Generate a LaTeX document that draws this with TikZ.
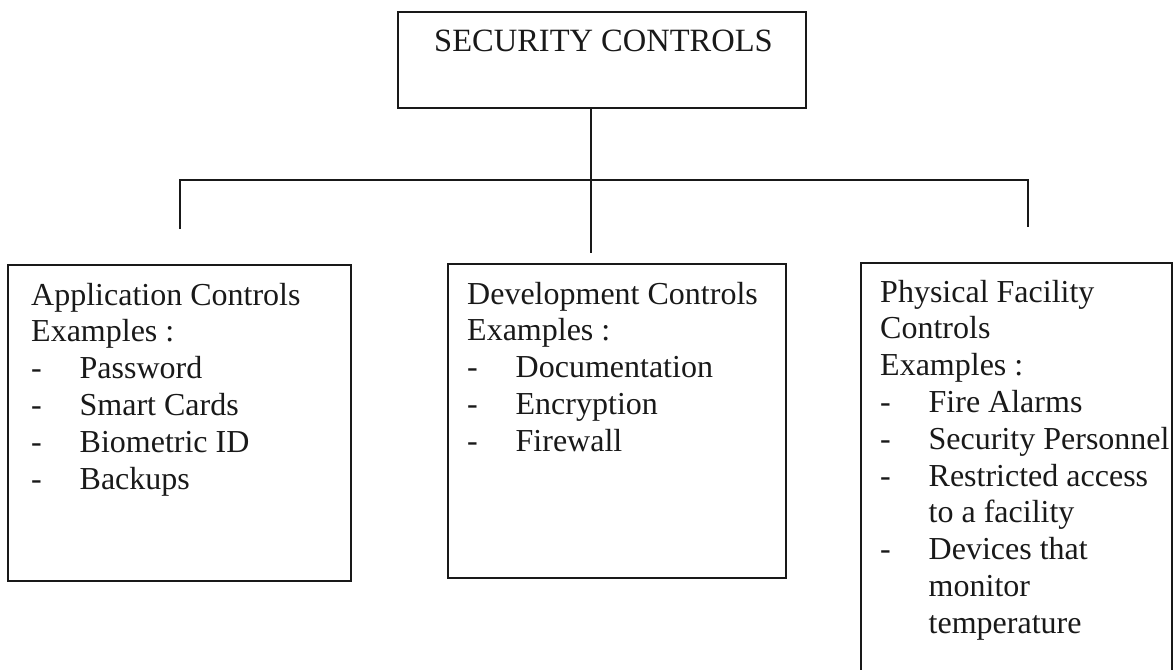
\documentclass[tikz,border=0pt]{standalone}
\usepackage{fontspec}
\setmainfont{Liberation Serif}
\newcommand\dashcell{\makebox[48.5pt][l]{-}}
\begin{document}
\begin{tikzpicture}[x=1pt,y=-1pt,
  frame/.style={draw=black!90, line width=2pt, inner sep=0pt, anchor=north west},
  link/.style={draw=black!90, line width=1.8pt},
  label/.style={anchor=base west, inner sep=0pt, text=black!90, font=\fontsize{32}{36.8}\selectfont}]
\clip (0,0) rectangle (1174,669);
\useasboundingbox (0,0) rectangle (1174,669);

% root box
\node[frame, minimum width=408pt, minimum height=96pt] (root) at (397,11) {};
\node[label, font=\fontsize{32.5}{38}\selectfont] (roottxt) at (434,52) {SECURITY CONTROLS};

% category boxes
\node[frame, minimum width=343pt, minimum height=316pt] (app) at (7,264) {};
\node[frame, minimum width=338pt, minimum height=314pt] (dev) at (447,263) {};
\node[frame, minimum width=311pt, minimum height=430pt] (phy) at (860,262) {};

\node[label] (apptxt) at (31,305) {%
  \begin{tabular}[t]{@{}l@{}l@{}}
  \multicolumn{2}{@{}l@{}}{Application Controls}\\
  \multicolumn{2}{@{}l@{}}{Examples :}\\
  \dashcell & Password\\
  \dashcell & Smart Cards\\
  \dashcell & Biometric ID\\
  \dashcell & Backups
  \end{tabular}};

\node[label] (devtxt) at (467,304) {%
  \begin{tabular}[t]{@{}l@{}l@{}}
  \multicolumn{2}{@{}l@{}}{Development Controls}\\
  \multicolumn{2}{@{}l@{}}{Examples :}\\
  \dashcell & Documentation\\
  \dashcell & Encryption\\
  \dashcell & Firewall
  \end{tabular}};

\node[label] (phytxt) at (880,302) {%
  \begin{tabular}[t]{@{}l@{}l@{}}
  \multicolumn{2}{@{}l@{}}{Physical Facility}\\
  \multicolumn{2}{@{}l@{}}{Controls}\\
  \multicolumn{2}{@{}l@{}}{Examples :}\\
  \dashcell & Fire Alarms\\
  \dashcell & Security Personnel\\
  \dashcell & Restricted access\\
            & to a facility\\
  \dashcell & Devices that\\
            & monitor\\
            & temperature
  \end{tabular}};

% connector tree
\coordinate (stemtop) at (root.south -| 591,0);
\coordinate (stembot) at (591,253);
\coordinate (lt) at (180,180);
\coordinate (lb) at (180,229);
\coordinate (rt) at (1028,180);
\coordinate (rb) at (1028,227);
\draw[link] (stemtop) -- (stembot);
\draw[link] (lb) -- (lt) -- (rt) -- (rb);
\end{tikzpicture}
\end{document}
